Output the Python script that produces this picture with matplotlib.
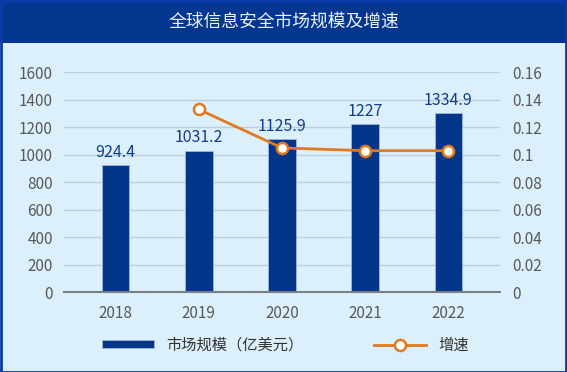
import numpy as np
import matplotlib
matplotlib.use('Agg')
import matplotlib.pyplot as plt
from matplotlib.patches import Rectangle
from matplotlib.lines import Line2D

plt.rcParams['font.family'] = ['Noto Sans CJK SC', 'DejaVu Sans']

# data
years = ['2018', '2019', '2020', '2021', '2022']
market_size = [924.4, 1031.2, 1113, 1222, 1302]   # bar heights as drawn
size_labels = ['924.4', '1031.2', '1125.9', '1227', '1334.9']
growth_years = ['2019', '2020', '2021', '2022']
growth = [0.133, 0.105, 0.103, 0.103]

title = '全球信息安全市场规模及增速'
bar_name = '市场规模（亿美元）'
line_name = '增速'

left_ticks = [0, 200, 400, 600, 800, 1000, 1200, 1400, 1600]
right_ticks = [0, 0.02, 0.04, 0.06, 0.08, 0.1, 0.12, 0.14, 0.16]
right_labels = ['0', '0.02', '0.04', '0.06', '0.08', '0.1', '0.12', '0.14', '0.16']

navy = '#03358a'
orange = '#e07a1f'
bg = '#dcf0fb'
grey = '#595959'

W, H = 567, 372
fig = plt.figure(figsize=(W / 100, H / 100), dpi=100)
fig.patch.set_facecolor(bg)

# title bar and frame
fig.add_artist(Rectangle((0, 1 - 43 / H), 1, 43 / H, transform=fig.transFigure,
                         facecolor='#03368f', edgecolor='none', zorder=0))
fig.text(0.5, 1 - 22 / H, title, color='#eef2fa', fontsize=12.8,
         ha='center', va='center')
fig.add_artist(Rectangle((0.5 / W, 0.5 / H), 1 - 1.5 / W, 1 - 1 / H,
                         transform=fig.transFigure, fill=False,
                         edgecolor='#0a3aa8', linewidth=2, zorder=5))

ax = fig.add_axes([64 / W, 1 - 292.3 / H, 436 / W, 220 / H])
ax.set_facecolor('none')
x = np.arange(len(years))
bars = ax.bar(x, market_size, width=0.33, color=navy, edgecolor='#9bb8dc',
              linewidth=0.6, zorder=3)
for xi, h, lab in zip(x, market_size, size_labels):
    ax.text(xi, h + 30, lab, ha='center', va='bottom', color='#143c8c',
            fontsize=11.5)

ax.set_xlim(-0.62, 4.62)
ax.set_ylim(0, 1600)
ax.set_yticks(left_ticks)
ax.set_xticks(x)
ax.set_xticklabels(years)
ax.tick_params(axis='both', length=0, colors=grey, labelsize=11)
ax.tick_params(axis='x', pad=9)
ax.tick_params(axis='y', pad=8)
ax.grid(axis='y', color='#bdcfdd', linewidth=1, zorder=0)
for s in ['top', 'right', 'left']:
    ax.spines[s].set_visible(False)
ax.spines['bottom'].set_color('#7a7f86')
ax.spines['bottom'].set_linewidth(1.5)
ax.spines['bottom'].set_zorder(4)

ax2 = ax.twinx()
gx = [years.index(y) for y in growth_years]
ax2.plot(gx, growth, color=orange, linewidth=2, marker='o', markersize=8,
         markerfacecolor='white', markeredgecolor=orange, markeredgewidth=1.8,
         zorder=5)
ax2.set_ylim(0, 0.16)
ax2.set_yticks(right_ticks)
ax2.set_yticklabels(right_labels)
ax2.tick_params(axis='y', length=0, colors=grey, labelsize=11, pad=9)
for s in ax2.spines.values():
    s.set_visible(False)

# legend
handles = [Rectangle((0, 0), 1, 1, facecolor=navy, edgecolor='#9bb8dc', linewidth=0.6),
           Line2D([0], [0], color=orange, linewidth=2, marker='o', markersize=8,
                  markerfacecolor='white', markeredgecolor=orange,
                  markeredgewidth=1.8)]
leg = fig.legend(handles, [bar_name, line_name], ncol=2, loc='center',
                 bbox_to_anchor=(0.503, 1 - 345 / H), frameon=False,
                 fontsize=11, handlelength=3.4, handleheight=0.5,
                 handletextpad=0.8, columnspacing=4.6)
for t in leg.get_texts():
    t.set_color('#333333')

fig.savefig('out.png', dpi=100, facecolor=bg)
